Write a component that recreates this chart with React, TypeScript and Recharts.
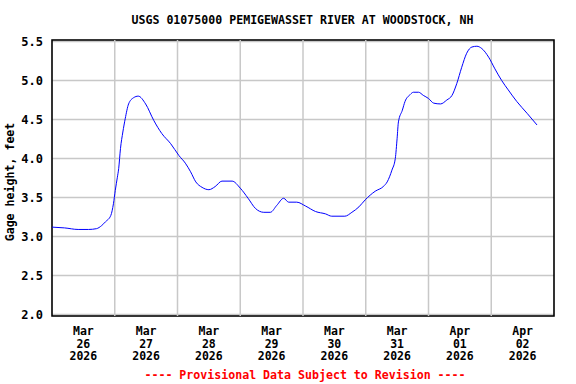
import { LineChart, Line, CartesianGrid, XAxis, YAxis, ReferenceLine, ReferenceArea } from "recharts";

// hours since Mar 26 2026 00:00 and gage height (ft)
const hours = [
    0, 4.8, 10, 14, 17, 19, 20.5, 22.5, 23.5, 24.2, 25, 25.5, 26.2, 27.1, 28, 29.3, 31.2, 33, 35.8, 38.9,
    42, 45.4, 48.5, 51, 53, 55, 57.4, 60, 62.4, 65, 68.9, 72, 75, 77.8, 81, 83.5, 86, 88.6, 90.5, 93.6,
    97, 100.8, 104.6, 107, 112, 114.7, 117.4, 119.8, 123.6, 126.7, 128.2, 130, 131.3, 132, 132.5, 134, 135, 137, 138.2, 140.2,
    142, 144, 146, 148.6, 151, 153, 154.8, 156.7, 158.6, 160.6, 162.5, 164.4, 167, 169.4, 172, 174.5, 177.8, 181.7, 185.5,
];
const stage = [
    3.12, 3.11, 3.09, 3.09, 3.1, 3.14, 3.19, 3.27, 3.42, 3.59, 3.76, 3.87, 4.13, 4.34, 4.51, 4.7, 4.78, 4.8, 4.7, 4.49,
    4.32, 4.19, 4.04, 3.94, 3.83, 3.7, 3.63, 3.6, 3.64, 3.71, 3.71, 3.62, 3.49, 3.36, 3.31, 3.31, 3.4, 3.49, 3.44, 3.44,
    3.39, 3.32, 3.29, 3.26, 3.26, 3.31, 3.38, 3.47, 3.58, 3.64, 3.7, 3.85, 4.0, 4.26, 4.47, 4.62, 4.73, 4.82, 4.85, 4.85,
    4.81, 4.77, 4.71, 4.7, 4.75, 4.81, 4.96, 5.17, 5.35, 5.43, 5.44, 5.41, 5.3, 5.15, 5.0, 4.88, 4.73, 4.58, 4.43,
];

const labelHours = [12, 36, 60, 84, 108, 132, 156, 180];
const labelMonth = ["Mar", "Mar", "Mar", "Mar", "Mar", "Mar", "Apr", "Apr"];
const labelDay = ["26", "27", "28", "29", "30", "31", "01", "02"];
const labelYear = ["2026", "2026", "2026", "2026", "2026", "2026", "2026", "2026"];
const midnights = [24, 48, 72, 96, 120, 144, 168];
const yTicks = [2.0, 2.5, 3.0, 3.5, 4.0, 4.5, 5.0, 5.5];

const mono = "'DejaVu Sans Mono', monospace";

function DateTick(props: any) {
    const i = labelHours.indexOf(props.payload.value);
    if (i < 0) return null;
    const base = props.y + 11;
    return (
        <g>
            {[labelMonth[i], labelDay[i], labelYear[i]].map((s, k) => (
                <text key={k} x={props.x} y={base + k * 12.7} textAnchor="middle" fontFamily={mono} fontWeight="bold" fontSize={11.5} fill="#000">
                    {s}
                </text>
            ))}
        </g>
    );
}

export default function App() {
    const data = hours.map((h, i) => ({ h, v: stage[i] }));

    return (
        <div style={{ position: "absolute", left: 0, top: 0, width: 576, height: 384, background: "#fff" }}>
            <LineChart width={576} height={384} data={data} margin={{ top: 40, right: 22, bottom: 0, left: 0 }}>
                <CartesianGrid vertical={false} stroke="#c8c8c8" strokeWidth={1.5} />
                {midnights.map((m) => (
                    <ReferenceLine key={m} x={m} stroke="#c8c8c8" strokeWidth={1.5} />
                ))}
                <XAxis
                    dataKey="h"
                    type="number"
                    domain={[0, 192]}
                    ticks={labelHours}
                    interval={0}
                    tick={<DateTick />}
                    tickLine={false}
                    axisLine={false}
                    height={68}
                />
                <YAxis
                    type="number"
                    domain={[1.98, 5.52]}
                    ticks={yTicks}
                    interval={0}
                    width={52}
                    tickLine={false}
                    axisLine={false}
                    tickMargin={3}
                    tickFormatter={(v: number) => v.toFixed(1)}
                    tick={{ fontFamily: mono, fontWeight: "bold", fontSize: 12, fill: "#000" }}
                />
                <Line type="monotone" dataKey="v" stroke="#0000ff" strokeWidth={1} dot={false} isAnimationActive={false} />
                <ReferenceArea x1={0} x2={192} y1={1.98} y2={5.52} fill="none" fillOpacity={0} stroke="#000" strokeWidth={1.6} />
            </LineChart>
            <svg width={576} height={384} style={{ position: "absolute", left: 0, top: 0, pointerEvents: "none" }}>
                <text x={302.5} y={23.5} textAnchor="middle" fontFamily={mono} fontWeight="bold" fontSize={11.6} fill="#000">
                    USGS 01075000 PEMIGEWASSET RIVER AT WOODSTOCK, NH
                </text>
                <text x={14} y={182} transform="rotate(-90 14 182)" textAnchor="middle" fontFamily={mono} fontWeight="bold" fontSize={11.6} fill="#000">
                    Gage height, feet
                </text>
                <text x={305} y={378.5} textAnchor="middle" fontFamily={mono} fontWeight="bold" fontSize={11.6} fill="#ff0000">
                    ---- Provisional Data Subject to Revision ----
                </text>
            </svg>
        </div>
    );
}
